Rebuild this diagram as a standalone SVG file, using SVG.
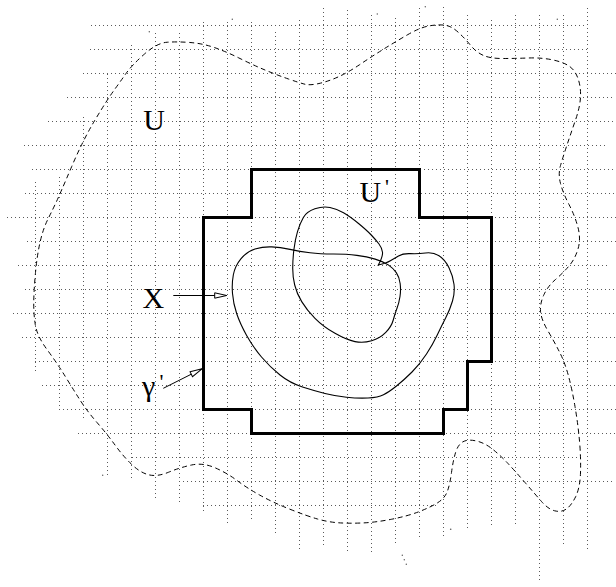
<svg xmlns="http://www.w3.org/2000/svg" width="616" height="587" viewBox="0 0 616 587">
<style>
.grid{fill:none;stroke:#5a5a5a;stroke-width:1;stroke-dasharray:1 3}
.dash{fill:none;stroke:#000;stroke-width:1;stroke-dasharray:5 3.5}
.thick{fill:none;stroke:#000;stroke-width:3;stroke-linejoin:miter}
.curve{fill:none;stroke:#000;stroke-width:1.1}
.conn{fill:none;stroke:#000;stroke-width:1}
.lbl{font-family:"Liberation Serif","Times New Roman",serif;font-size:30px;fill:#000}
.prime{font-size:22px}
.stray{fill:#5a5a5a}
</style>
<defs>
<marker id="open" markerUnits="userSpaceOnUse" markerWidth="14" markerHeight="8" refX="12" refY="3" orient="auto" overflow="visible">
<path d="M0,0.3 L12,3 L0,5.7 Z" fill="#fff" stroke="#000" stroke-width="1"/>
</marker>
</defs>
<rect width="616" height="587" fill="#fff"/>
<g id="grid">
<path class="grid" d="M91 25.5H587M90 49.5H587M83 73.5H616M67 97.5H613M48 121.5H613M24 145.5H608M32 169.5H616M25 193.5H616M7 217.5H616M27 241.5H616M18 265.5H608M25 289.5H616M13 313.5H616M22 337.5H616M35 361.5H616M42 385.5H616M59 409.5H616M78 433.5H616M132 457.5H581M179 481.5H613M203 505.5H437"/>
<path class="grid" d="M35.5 182V371M59.5 177V410M83.5 117V419M107.5 74V476M131.5 45V478M155.5 33V500M179.5 33V502M203.5 22V514M227.5 22V526M251.5 22V521M275.5 32V534M299.5 20V549M323.5 8V546M347.5 10V553M371.5 15V554M395.5 18V546M419.5 8V539M443.5 7V538M467.5 15V531M491.5 20V528M515.5 15V526M539.5 15V583M563.5 15V546M587.5 8V551"/>
<g class="stray">
<circle cx="425.3" cy="6.7" r="0.7"/><circle cx="377.3" cy="14" r="0.7"/><circle cx="232.3" cy="19.3" r="0.7"/><circle cx="149.3" cy="31.7" r="0.7"/><circle cx="557.3" cy="19.3" r="0.7"/><circle cx="450.7" cy="529.3" r="0.8"/><circle cx="402.3" cy="555.3" r="0.7"/><circle cx="404.3" cy="559.8" r="0.7"/><circle cx="406.3" cy="564.3" r="0.7"/><circle cx="102.7" cy="475.3" r="0.7"/>
</g>
</g>
<g id="region-U">
<path class="dash" d="M56.5 201.5Q60 194 71.5 167T95 120T113.5 91T126 73.5T144.5 54T167 42.25T190 42.5T215 47.75T240 58.5T265 70T288.5 79T305 84.25T319 83.5T338 77T359.5 64.75T383 49.5T408 34.5T430.5 25.65T446 25.4T458.5 32.5T470.5 45.25T483 55.25T502.5 58.5T528 58T552 59.75T569 66T578 78.5T580.5 97T575.5 120T567 145T560.5 165.5T560.5 183.5T569 204.5T578 227.5T578 249T569 266T555.5 279.5T544 294.5T540.5 311T548 331T560 353T568.5 376T575 406.5T579.5 441T580.5 473T575.5 497T566 509.25T554.5 510.75T541.5 501.5T525 482.5T508 463.5T493 449.5T476.5 441T463 441.75T455.5 452.75T451.5 472.5T447.5 491T438 502.5T419.5 511.5T391.5 519.25T361.5 523T338 522.75T317.5 519T290 509.25T260 495.25T237 480.5T215 467.75T191.5 465T168.5 472.25T148.5 474.75T131.5 464.25T115 445T97 422.5T80 400T65 376T47 349.5T35.25 324.5T33.75 301T35.5 272.5T40 242.5T48 219T56.5 201.5Z"/>
</g>
<g id="gamma-prime-contour">
<path class="thick" d="M251.5 169.5H419.5V217.5H491.5V361.5H467.5V409.5H443.5V433.5H251.5V409.5H203.5V217.5H251.5Z"/>
</g>
<g id="X-curve">
<path class="curve" d="M378.3 265Q386.7 263 390.35 260.75T398.5 255.9T410.5 253.65T425.5 253T439 255.75T449 267.75T454 284.25T452.5 301T445.75 317.75T437.25 335T426.5 354T412 372T396.5 386T383.5 394.75T368 398T346.5 397.25T325 393.5T302.5 387T280 375T261.5 357T246.5 335.25T236.65 313.5T232.5 293.5T233.35 274.75T240.85 258.85T255 249.1T271.65 246.9T290 249.4T310 252.75T333.35 254T356.85 255.35T375.15 259.1T388.3 264.9T396.3 272.65T400.15 283.5T400 296.5T397 308.25T393.25 320T385.75 332.4T371.65 340.8T355 341.65T335 333.35T315 318.35T301.7 301.65T294.7 285T292.7 268.35T293.85 250T297.5 231.65T303.35 217.5T314.85 208.85T330 207.5T343.5 212.75T358.25 223.25T371.25 235T379 244T382.5 252.25T378.3 265Z"/>
</g>
<g id="label-U"><text class="lbl" x="154" y="129.5" text-anchor="middle">U</text></g>
<g id="label-U-prime"><text class="lbl" x="359.5" y="202">U<tspan class="prime" x="385" y="193.5">'</tspan></text></g>
<g id="label-X"><text class="lbl" x="153.3" y="308" text-anchor="middle">X</text></g>
<g id="label-gamma-prime"><text class="lbl" x="142" y="395.5">γ<tspan class="prime" x="159.5" y="389">'</tspan></text></g>
<g id="connectors">
<path class="conn" d="M173.3 295.5H226.7" marker-end="url(#open)"/>
<path class="conn" d="M163.3 388.3L202 368.8" marker-end="url(#open)"/>
</g>
</svg>
